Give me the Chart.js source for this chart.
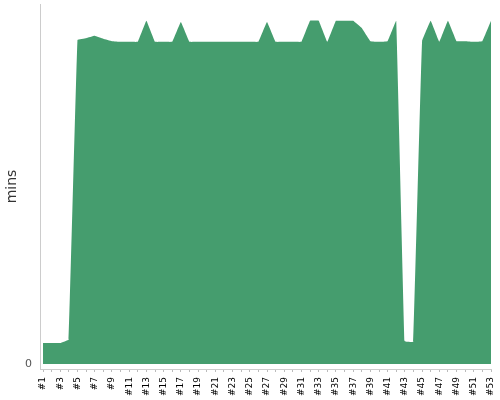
<!DOCTYPE html>
<html><head><meta charset="utf-8">
<script src="https://cdn.jsdelivr.net/npm/chart.js@4"></script>
<style>html,body{margin:0;padding:0;background:#fff}#wrap{width:500px;height:400px}</style>
</head><body><div id="wrap"><canvas id="c"></canvas></div>
<script>
const runs = Array.from({length:53},(_,i)=>i+1);
const labels = runs.map(n=>'#'+n);
const mins = [3.5,3.5,3.5,4.1,54.0,54.3,54.7,54.2,53.8,53.7,
  53.7,53.7,57.2,53.7,53.7,53.7,57.0,53.7,53.7,53.7,
  53.7,53.7,53.7,53.7,53.7,53.7,57.0,53.7,53.7,53.7,
  53.7,57.2,57.2,53.7,57.2,57.2,57.2,56.0,53.8,53.7,
  53.8,57.2,3.8,3.7,53.8,57.2,53.7,57.2,53.8,53.8,
  53.7,53.8,57.2];
const yLabel = 'mins';
const green = 'rgb(69,157,110)';

new Chart(document.getElementById('c'), {
  type: 'line',
  data: {
    datasets: [{
      data: runs.map((r,i)=>({x:r,y:mins[i]})),
      backgroundColor: green,
      borderColor: green,
      borderWidth: 0,
      fill: 'origin',
      pointRadius: 0,
      tension: 0.05
    }]
  },
  options: {
    responsive: true,
    maintainAspectRatio: false,
    animation: false,
    layout: {padding: {top: 4, right: 9, left: 4, bottom: 0}},
    plugins: {legend: {display: false}, tooltip: {enabled: false}},
    scales: {
      x: {
        type: 'linear',
        min: 0.65, max: 53,
        afterBuildTicks: s => { s.ticks = runs.map(v=>({value:v})); },
        grid: {drawOnChartArea: false, drawTicks: true, tickLength: 3, color: '#bbb'},
        border: {color: '#ccc'},
        ticks: {
          autoSkip: false, maxRotation: 90, minRotation: 90, padding: 5,
          color: '#000', font: {family: 'DejaVu Sans', size: 9},
          callback: (v) => (v % 2 === 1) ? labels[v-1] : ''
        },
        afterFit: s => { s.height = 31; s.paddingLeft = 0; s.paddingRight = 0; }
      },
      y: {
        min: -0.83, max: 60,
        afterBuildTicks: s => { s.ticks = [{value:0}]; },
        grid: {display: false, drawTicks: false},
        border: {color: '#ccc'},
        ticks: {color: '#555', font: {family: 'DejaVu Sans', size: 11}, padding: 8},
        title: {display: true, text: yLabel, color: '#333', font: {family: 'DejaVu Sans', size: 14}, padding: {top:0,bottom:4}},
        afterFit: s => { s.width = 36; s.paddingTop = 0; s.paddingBottom = 0; }
      }
    }
  }
});
</script></body></html>
